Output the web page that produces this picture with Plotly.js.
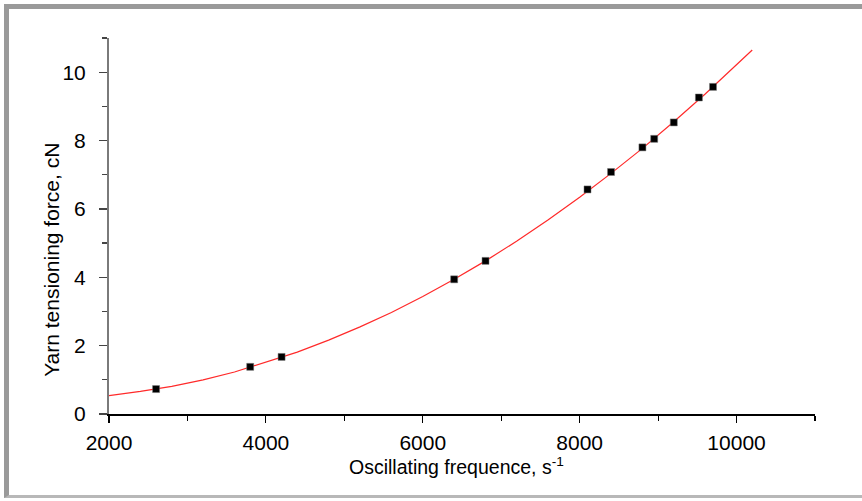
<!DOCTYPE html>
<html>
<head>
<meta charset="utf-8">
<script src="https://cdn.plot.ly/plotly-3.0.1.min.js"></script>
<style>
  html, body { margin: 0; padding: 0; background: #fff; }
  #wrap { position: relative; width: 862px; height: 501px; }
  #chart { position: absolute; left: 0; top: 0; width: 862px; height: 501px; }
  #frame { position: absolute; left: 4px; top: 4px; width: 858px; height: 494px;
           border-top: 5px solid #9a9a9a; border-left: 5px solid #9a9a9a;
           border-bottom: 3px solid #b8b8b8; box-sizing: border-box; pointer-events: none; }
</style>
</head>
<body>
<div id="wrap">
  <div id="chart"></div>
  <div id="frame"></div>
</div>
<script>
// Measured points
const freqPoints = [2600, 3800, 4200, 6400, 6800, 8100, 8400, 8800, 8950, 9200, 9520, 9700];
const forcePoints = [0.73, 1.38, 1.67, 3.94, 4.48, 6.57, 7.08, 7.80, 8.05, 8.53, 9.26, 9.57];

// Fitted curve
const freqCurve = [2000, 2400, 2800, 3200, 3600, 4000, 4400, 4800, 5200, 5600, 6000, 6400, 6800, 7200, 7600, 8000, 8400, 8800, 9200, 9600, 10000, 10200];
const forceCurve = [0.54, 0.66, 0.81, 1.00, 1.23, 1.51, 1.81, 2.16, 2.55, 2.97, 3.44, 3.94, 4.48, 5.06, 5.68, 6.34, 7.04, 7.77, 8.55, 9.36, 10.21, 10.65];

const xTitle = 'Oscillating frequence, s<sup>-1</sup>';
const yTitle = 'Yarn tensioning force, cN';

const font = 'Liberation Sans, Arial, Helvetica, sans-serif';

const traces = [
  {
    x: freqCurve, y: forceCurve, type: 'scatter', mode: 'lines',
    line: { color: '#ff2a2a', width: 1.2 }, hoverinfo: 'skip'
  },
  {
    x: freqPoints, y: forcePoints, type: 'scatter', mode: 'markers',
    marker: { symbol: 'square', size: 7, color: '#000000', line: { color: '#777', width: 0.5 } }
  }
];

const layout = {
  width: 862, height: 501,
  margin: { l: 109, r: 46.5, t: 38, b: 87 },
  paper_bgcolor: '#ffffff', plot_bgcolor: '#ffffff',
  showlegend: false,
  font: { family: font, color: '#000', size: 20 },
  xaxis: {
    range: [2000, 11000], tick0: 2000, dtick: 2000, tickformat: 'd',
    showgrid: false, zeroline: false,
    showline: true, linecolor: '#000', linewidth: 1.5,
    ticks: 'outside', ticklen: 7, tickwidth: 1.2, tickcolor: '#000',
    minor: { dtick: 1000, ticks: 'outside', ticklen: 5, tickwidth: 1.2, tickcolor: '#000', showgrid: false },
    tickfont: { family: font, size: 21, color: '#000' },
    ticklabelstandoff: 2
  },
  yaxis: {
    range: [0, 11], tick0: 0, dtick: 2,
    showgrid: false, zeroline: false,
    showline: true, linecolor: '#7a7a7a', linewidth: 2,
    ticks: 'outside', ticklen: 8, tickwidth: 1.2, tickcolor: '#444',
    minor: { dtick: 1, ticks: 'outside', ticklen: 5, tickwidth: 1.2, tickcolor: '#444', showgrid: false },
    tickfont: { family: font, size: 21, color: '#000' },
    ticklabelstandoff: 9
  },
  annotations: [
    {
      text: xTitle, xref: 'paper', yref: 'paper', x: 0.4926, y: -0.138,
      xanchor: 'center', yanchor: 'middle', showarrow: false,
      font: { family: font, size: 19.5, color: '#000' }
    },
    {
      text: yTitle, xref: 'paper', yref: 'paper', x: -0.0807, y: 0.41,
      xanchor: 'center', yanchor: 'middle', showarrow: false, textangle: -90,
      font: { family: font, size: 21, color: '#000' }
    }
  ]
};

Plotly.newPlot('chart', traces, layout, { displayModeBar: false, staticPlot: true });
</script>
</body>
</html>
